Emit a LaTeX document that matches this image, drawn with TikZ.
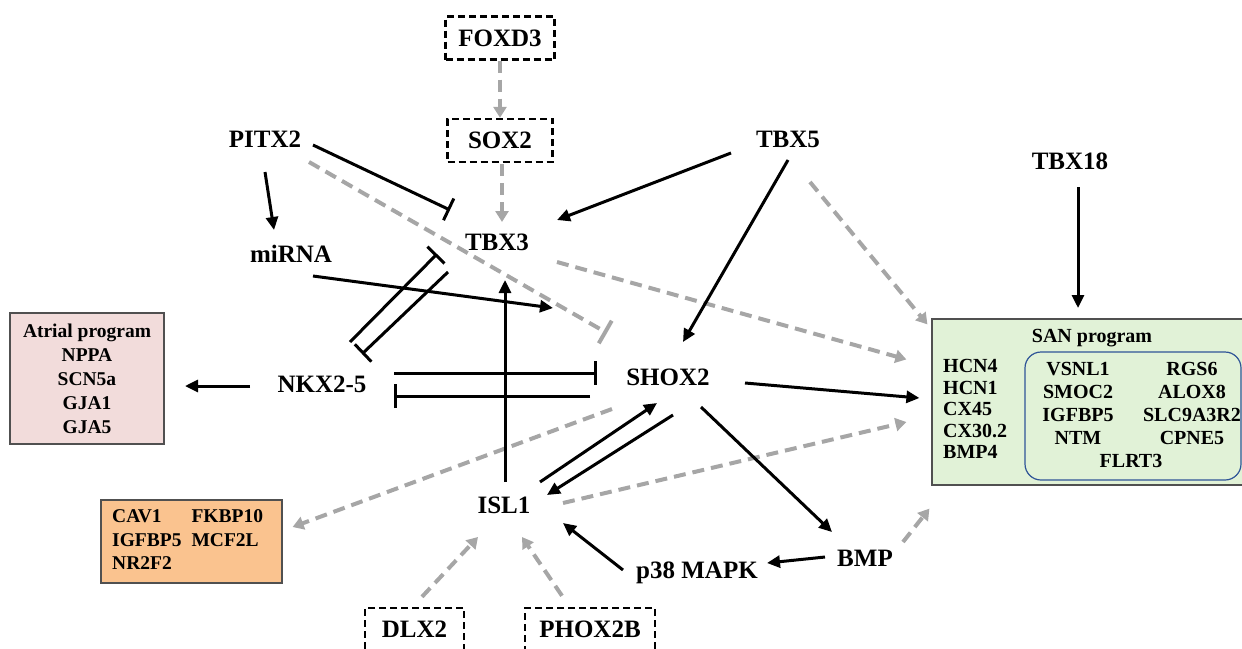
\documentclass[tikz,border=0pt]{standalone}
\usepackage{fontspec}
\setmainfont{Liberation Serif}
\usetikzlibrary{arrows.meta,calc}
\definecolor{gline}{HTML}{A6A6A6}
\definecolor{sanfill}{HTML}{E1F2D7}
\definecolor{atrfill}{HTML}{F2DCDB}
\definecolor{orfill}{HTML}{FAC38F}
\definecolor{innerblue}{HTML}{2F5597}
\definecolor{boxedge}{HTML}{505050}
\begin{document}
\begin{tikzpicture}[x=1pt,y=-1pt,
  lab/.style={font=\fontsize{25}{30}\selectfont\bfseries, inner sep=0pt, text depth=0pt},
  dbox/.style={draw, line width=2.4pt, dash pattern=on 7pt off 4pt, minimum height=43pt, inner sep=0pt, text depth=0pt, font=\fontsize{25}{30}\selectfont\bfseries},
  fbox/.style={draw=boxedge, line width=1.2pt, inner sep=0pt},
  small/.style={font=\fontsize{20}{23}\selectfont\bfseries, inner sep=0pt},
  act/.style={line width=3pt, -{Triangle[length=13pt,width=12pt]}},
  inh/.style={line width=3pt, -{Bar[width=24pt]}},
  gact/.style={gline, line width=4pt, dash pattern=on 12pt off 7pt, -{Triangle[length=11pt,width=13pt]}},
  ginh/.style={gline, line width=4pt, dash pattern=on 12pt off 7pt, -{Bar[width=26pt]}}]
\useasboundingbox (0,0) rectangle (1242,648);

% boxes
\node[fbox, fill=atrfill, minimum width=154pt, minimum height=131pt, align=center,
      font=\fontsize{19.5}{24}\selectfont\bfseries] (A) at (87,378.5)
      {Atrial program\\NPPA\\SCN5a\\GJA1\\GJA5};
\node[fbox, fill=orfill, minimum width=181pt, minimum height=83pt] (O) at (191.5,541.5) {};
\node[anchor=west, inner sep=0pt, font=\fontsize{19.5}{23.5}\selectfont\bfseries] (Otext) at (112,541.5)
  {\begin{tabular}{@{}l@{\hspace{10pt}}l@{}}CAV1 & FKBP10\\ IGFBP5 & MCF2L\\ NR2F2 & \end{tabular}};
\node[fbox, fill=sanfill, minimum width=318pt, minimum height=166pt] (SAN) at (1091,402) {};
\node[draw=innerblue, line width=1.2pt, rounded corners=16pt, minimum width=216pt, minimum height=128pt, inner sep=0pt] (inner) at (1133,416) {};
\node[small] (SANt) at (1092,338) {SAN program};
\node[small, anchor=west, align=left, font=\fontsize{20}{21.5}\selectfont\bfseries] (SANl) at (943,409)
  {HCN4\\HCN1\\CX45\\CX30.2\\BMP4};
\node[small, align=center] (SANa) at (1078,403.5) {VSNL1\\SMOC2\\IGFBP5\\NTM};
\node[small, align=center] (SANb) at (1192,403.5) {RGS6\\ALOX8\\SLC9A3R2\\CPNE5};
\node[small] (SANc) at (1131,461) {FLRT3};

% dashed boxes
\node[dbox, minimum width=109pt] (F) at (500,38) {FOXD3};
\node[dbox, minimum width=105pt] (S2) at (500,140.5) {SOX2};
\node[dbox, minimum width=99pt] (D) at (414.5,629.5) {DLX2};
\node[dbox, minimum width=130pt] (PH) at (590,629.5) {PHOX2B};

% labels
\node[lab] (P) at (265,139) {PITX2};
\node[lab] (T5) at (788,139) {TBX5};
\node[lab] (T18) at (1070,161) {TBX18};
\node[lab] (T3) at (497,242) {TBX3};
\node[lab] (M) at (291,254) {miRNA};
\node[lab] (N) at (322,384) {NKX2-5};
\node[lab] (SH) at (668,377) {SHOX2};
\node[lab] (I) at (504,505) {ISL1};
\node[lab] (B) at (865,558) {BMP};
\node[lab] (K) at (697,570) {p38 MAPK};

% gray dashed connectors
\draw[gact] (F.south) -- (S2.north);
\draw[gact] ($(S2.south)+(2,1)$) -- ($(T3)+(5,-20)$);
\draw[ginh] ($(P)+(44,23)$) -- ($(SH)+(-61,-44)$);
\draw[gact] ($(T5)+(22,43)$) -- ($(SAN.north west)+(-4,6)$);
\draw[gact] ($(T3)+(60,20)$) -- ($(SAN.north west)+(-25,41)$);
\draw[gact] ($(SH)+(-56,32)$) -- ($(O.east)+(10,-14.5)$);
\draw[gact] ($(I)+(59,-2)$) -- ($(SAN.west)+(-25,20)$);
\draw[gact] ($(B)+(38,-16)$) -- ($(SAN.south west)+(-2,23)$);
\draw[gact] ($(D.north)+(7.5,-10)$) -- ($(I)+(-26,32)$);
\draw[gact] ($(PH.north)+(-28,-11)$) -- ($(I)+(18,32)$);

% black connectors
\draw[act] ($(P)+(0,33)$) -- ($(M)+(-17,-24)$);
\draw[inh] ($(P)+(48,6)$) -- ($(T3)+(-47,-32)$);
\draw[act] ($(T5)+(-57,14)$) -- ($(T3)+(60,-22)$);
\draw[act] ($(T5)+(0,21)$) -- ($(SH)+(15,-35)$);
\draw[act] ($(M)+(22,22)$) -- ($(SH)+(-115,-69)$);
\draw[inh] ($(N)+(28,-42)$) -- ($(T3)+(-60,12)$);
\draw[inh] ($(T3)+(-49,30)$) -- ($(N)+(40,-30)$);
\draw[inh] ($(N)+(72,-11)$) -- ($(SH)+(-71,-4)$);
\draw[inh] ($(SH)+(-78,19)$) -- ($(N)+(72,12)$);
\draw[act] ($(N)+(-72,2)$) -- ($(N)+(-137,2)$);
\draw[act] ($(I)+(1,-23)$) -- ($(T3)+(8,38)$);
\draw[act] ($(I)+(36,-23)$) -- ($(SH)+(-11,26)$);
\draw[act] ($(SH)+(5,38)$) -- ($(I)+(43,-10)$);
\draw[act] ($(SH)+(77,6)$) -- ($(SAN.west)+(-12,-4)$);
\draw[act] ($(SH)+(33,30)$) -- ($(B)+(-33,-26)$);
\draw[act] ($(B)+(-40,-1)$) -- ($(K)+(70,-7)$);
\draw[act] ($(K)+(-74,0)$) -- ($(I)+(59,18)$);
\draw[act] ($(T18)+(8,26)$) -- ($(T18)+(8,147)$);
\end{tikzpicture}
\end{document}
